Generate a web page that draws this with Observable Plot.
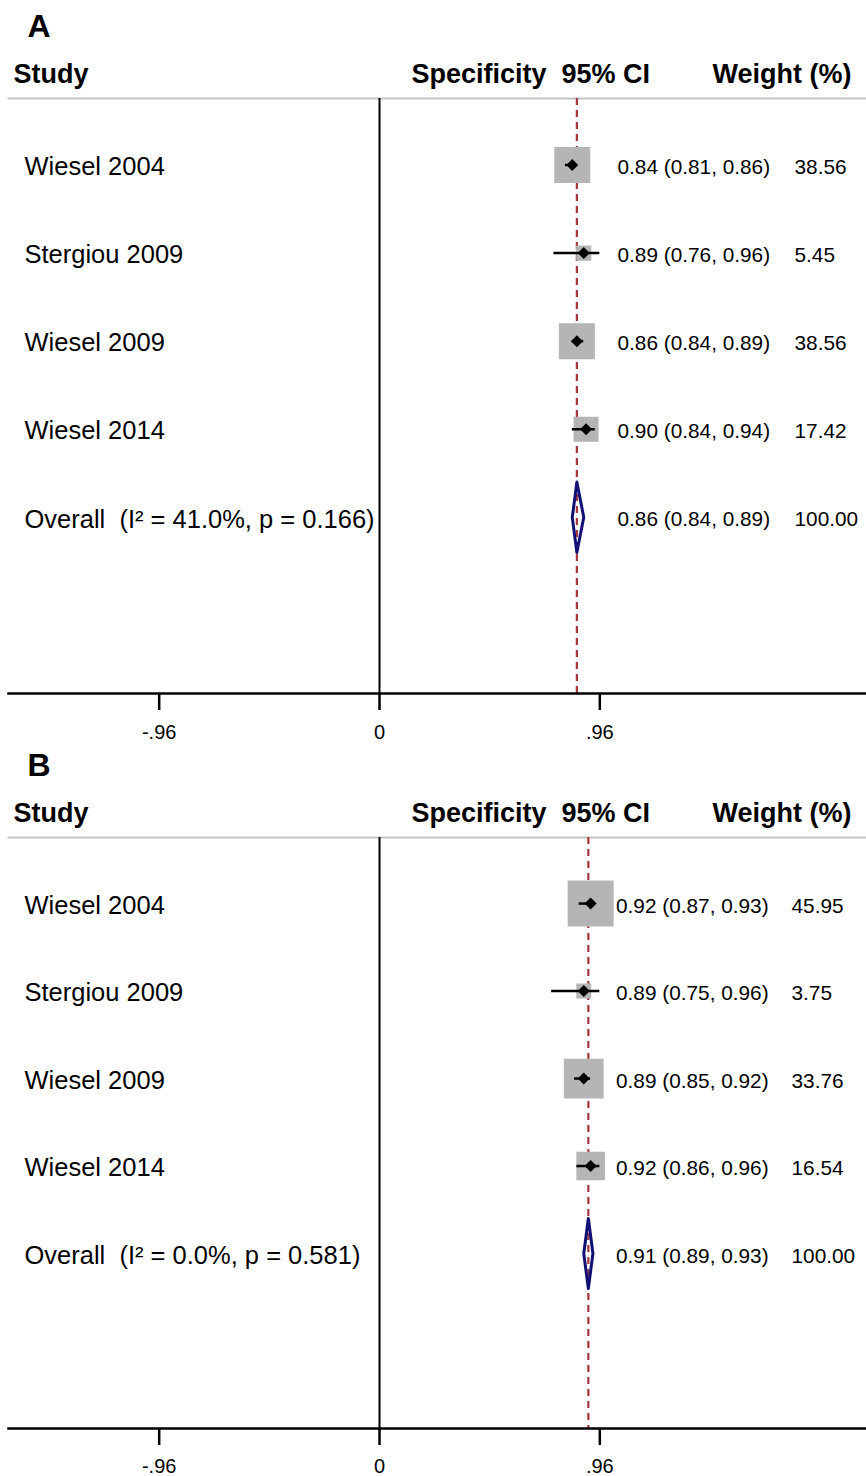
<!DOCTYPE html>
<html><head><meta charset="utf-8">
<script src="https://cdn.jsdelivr.net/npm/d3@7"></script>
<script src="https://cdn.jsdelivr.net/npm/@observablehq/plot@0.6"></script>
<style>body{margin:0;background:#fff;} svg{display:block;}</style>
</head><body><div id="chart"></div>
<script>
const studies = ["Wiesel 2004", "Stergiou 2009", "Wiesel 2009", "Wiesel 2014"];
const xTicks = [-0.96, 0, 0.96];

const specA = [0.84, 0.89, 0.86, 0.90];
const loA = [0.81, 0.76, 0.84, 0.84];
const hiA = [0.86, 0.96, 0.89, 0.94];
const weightA = [38.56, 5.45, 38.56, 17.42];
const overallA = {est: 0.86, lo: 0.84, hi: 0.89, i2: "41.0%", p: "0.166"};

const specB = [0.92, 0.89, 0.89, 0.92];
const loB = [0.87, 0.75, 0.85, 0.86];
const hiB = [0.93, 0.96, 0.92, 0.96];
const weightB = [45.95, 3.75, 33.76, 16.54];
const overallB = {est: 0.91, lo: 0.89, hi: 0.93, i2: "0.0%", p: "0.581"};

const f2 = d3.format(".2f");
const fmt = d => d === 0 ? "0" : f2(d).replace("\u2212", "-").replace("0.", ".");

function buildRows(est, lo, hi, w) {
  return studies.map((s, i) => ({
    i, label: s, est: est[i], lo: lo[i], hi: hi[i], w: w[i],
    ci: `${f2(est[i])} (${f2(lo[i])}, ${f2(hi[i])})`, wt: f2(w[i])
  }));
}

function panel({letter, rows, overall, height, marginTop, marginBottom, boxR, ciDx, wDx, labelDy}) {
  const oi = rows.length;
  const ovRow = {i: oi, label: `Overall\u00a0\u00a0(I² = ${overall.i2}, p = ${overall.p})`,
    ci: `${f2(overall.est)} (${f2(overall.lo)}, ${f2(overall.hi)})`, wt: "100.00"};
  const h = 0.4;
  const diamond = [
    {x: overall.lo, y: oi}, {x: overall.est, y: oi - h}, {x: overall.hi, y: oi},
    {x: overall.est, y: oi + h}, {x: overall.lo, y: oi}
  ];
  const textRows = [...rows, ovRow];
  const hdr = {frameAnchor: "top-left", textAnchor: "start", lineAnchor: "middle", fontWeight: "bold", fontSize: 27, dy: -24.5, text: d => d};
  return Plot.plot({
    width: 866, height, marginTop, marginBottom, marginLeft: 8, marginRight: 0,
    style: {fontFamily: "'Liberation Sans', Arial, Helvetica, sans-serif", background: "#fff", color: "#000"},
    x: {domain: [-1.6166, 2.122]},
    y: {domain: [-0.755, 6.0], reverse: true, axis: null},
    r: {range: [0, boxR]},
    marks: [
      Plot.frame({anchor: "top", stroke: "#c4c4c4", strokeWidth: 2}),
      Plot.ruleX([0], {strokeWidth: 2}),
      Plot.ruleX([overall.est], {stroke: "#a3373b", strokeWidth: 2.2, strokeDasharray: "7,5"}),
      Plot.dot(rows, {x: "est", y: "i", r: "w", symbol: "square", fill: "#b5b5b5", stroke: "#b5b5b5", strokeWidth: 2.5}),
      Plot.ruleY(rows, {y: "i", x1: "lo", x2: "hi", strokeWidth: 2.5}),
      Plot.dot(rows, {x: "est", y: "i", r: 5.4, symbol: "diamond2", fill: "#000"}),
      Plot.line(diamond, {x: "x", y: "y", stroke: "#101075", strokeWidth: 3}),
      Plot.frame({anchor: "bottom", strokeWidth: 2.5}),
      Plot.axisX({ticks: xTicks, tickFormat: () => "", tickSize: 17, strokeWidth: 2.5}),
      Plot.text(xTicks, {x: d => d, text: fmt, frameAnchor: "bottom", lineAnchor: "middle", dy: labelDy, fontSize: 20}),
      Plot.text([letter], {frameAnchor: "top-left", textAnchor: "start", lineAnchor: "middle", fontWeight: "bold", fontSize: 32, dx: 19, dy: -72, text: d => d}),
      Plot.text(["Study"], {...hdr, dx: 5}),
      Plot.text(["Specificity\u00a0\u00a095% CI"], {...hdr, dx: 403}),
      Plot.text(["Weight (%)"], {...hdr, dx: 704}),
      Plot.text(textRows, {y: "i", text: "label", frameAnchor: "left", textAnchor: "start", dx: 16, dy: 2, fontSize: 25.5}),
      Plot.text(textRows, {y: "i", text: "ci", frameAnchor: "left", textAnchor: "start", dx: ciDx, dy: 2.5, fontSize: 20.8}),
      Plot.text(textRows, {y: "i", text: "wt", frameAnchor: "left", textAnchor: "start", dx: wDx, dy: 2.5, fontSize: 20.8})
    ]
  });
}

const chart = document.getElementById("chart");
chart.appendChild(panel({letter: "A", rows: buildRows(specA, loA, hiA, weightA), overall: overallA,
  height: 744, marginTop: 98, marginBottom: 51, boxR: 18.9, ciDx: 609, wDx: 786, labelDy: 38.8}));
chart.appendChild(panel({letter: "B", rows: buildRows(specB, loB, hiB, weightB), overall: overallB,
  height: 732, marginTop: 93, marginBottom: 48, boxR: 24.54, ciDx: 607.5, wDx: 783, labelDy: 38.2}));
</script></body></html>
